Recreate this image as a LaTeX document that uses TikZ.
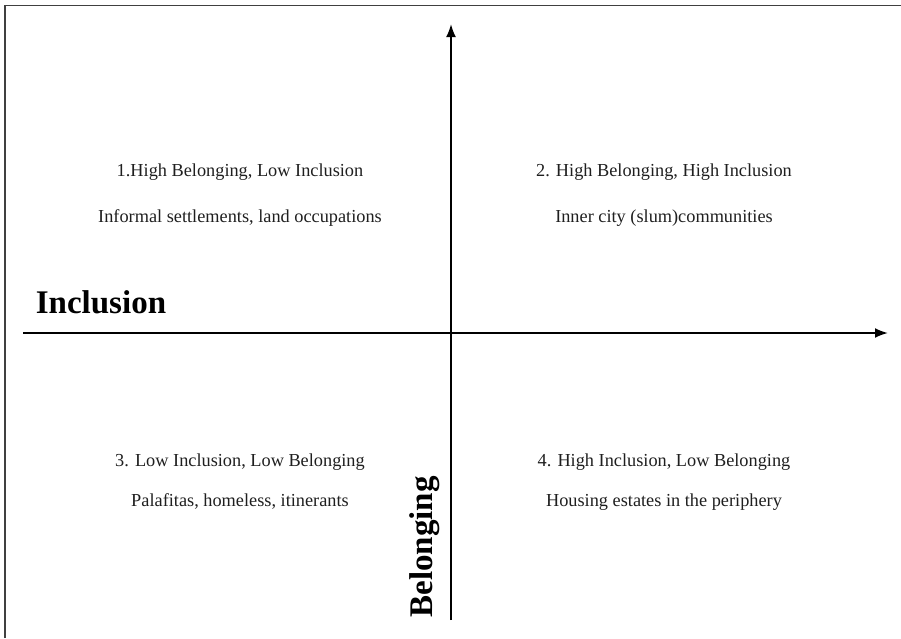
\documentclass[tikz,border=0pt]{standalone}
\usepackage{fontspec}
\setmainfont{Liberation Serif}
\usetikzlibrary{arrows.meta,positioning}

\tikzset{
    axisline/.style={line width=2pt,-{Latex[length=13pt,width=10pt]}},
    quadtext/.style={anchor=base,inner sep=0pt,text=black!88,font=\fontsize{18.3}{22}\selectfont},
    axislabel/.style={anchor=base,inner sep=0pt,font=\fontsize{33}{38}\selectfont\bfseries}
}

\begin{document}
\begin{tikzpicture}[x=1pt,y=-1pt]
    \useasboundingbox (0,0) rectangle (901,638);
    % frame
    \draw[line width=1.5pt,black!75] (5,638) -- (5,5.5) -- (901,5.5);
    % axes
    \coordinate (incl-start) at (23,333);
    \coordinate (incl-end) at (888,333);
    \coordinate (bel-start) at (451,620);
    \coordinate (bel-end) at (451,24);
    \draw[axisline] (incl-start) -- (incl-end);
    \draw[axisline] (bel-start) -- (bel-end);
    \node[axislabel] (incl) at (101,313) {Inclusion};
    \node[axislabel,rotate=90] (bel) at (432,547) {Belonging};
    % quadrants
    \node[quadtext] (q1) at (240,176) {1.High Belonging, Low Inclusion};
    \node[quadtext] (q1-ex) at (240,222) {Informal settlements, land occupations};
    \node[quadtext] (q2) at (664,176) {2. High Belonging, High Inclusion};
    \node[quadtext] (q2-ex) at (664,222) {Inner city (slum)communities};
    \node[quadtext] (q3) at (240,466) {3. Low Inclusion, Low Belonging};
    \node[quadtext] (q3-ex) at (240,506) {Palafitas, homeless, itinerants};
    \node[quadtext] (q4) at (664,466) {4. High Inclusion, Low Belonging};
    \node[quadtext] (q4-ex) at (664,506) {Housing estates in the periphery};
\end{tikzpicture}
\end{document}
